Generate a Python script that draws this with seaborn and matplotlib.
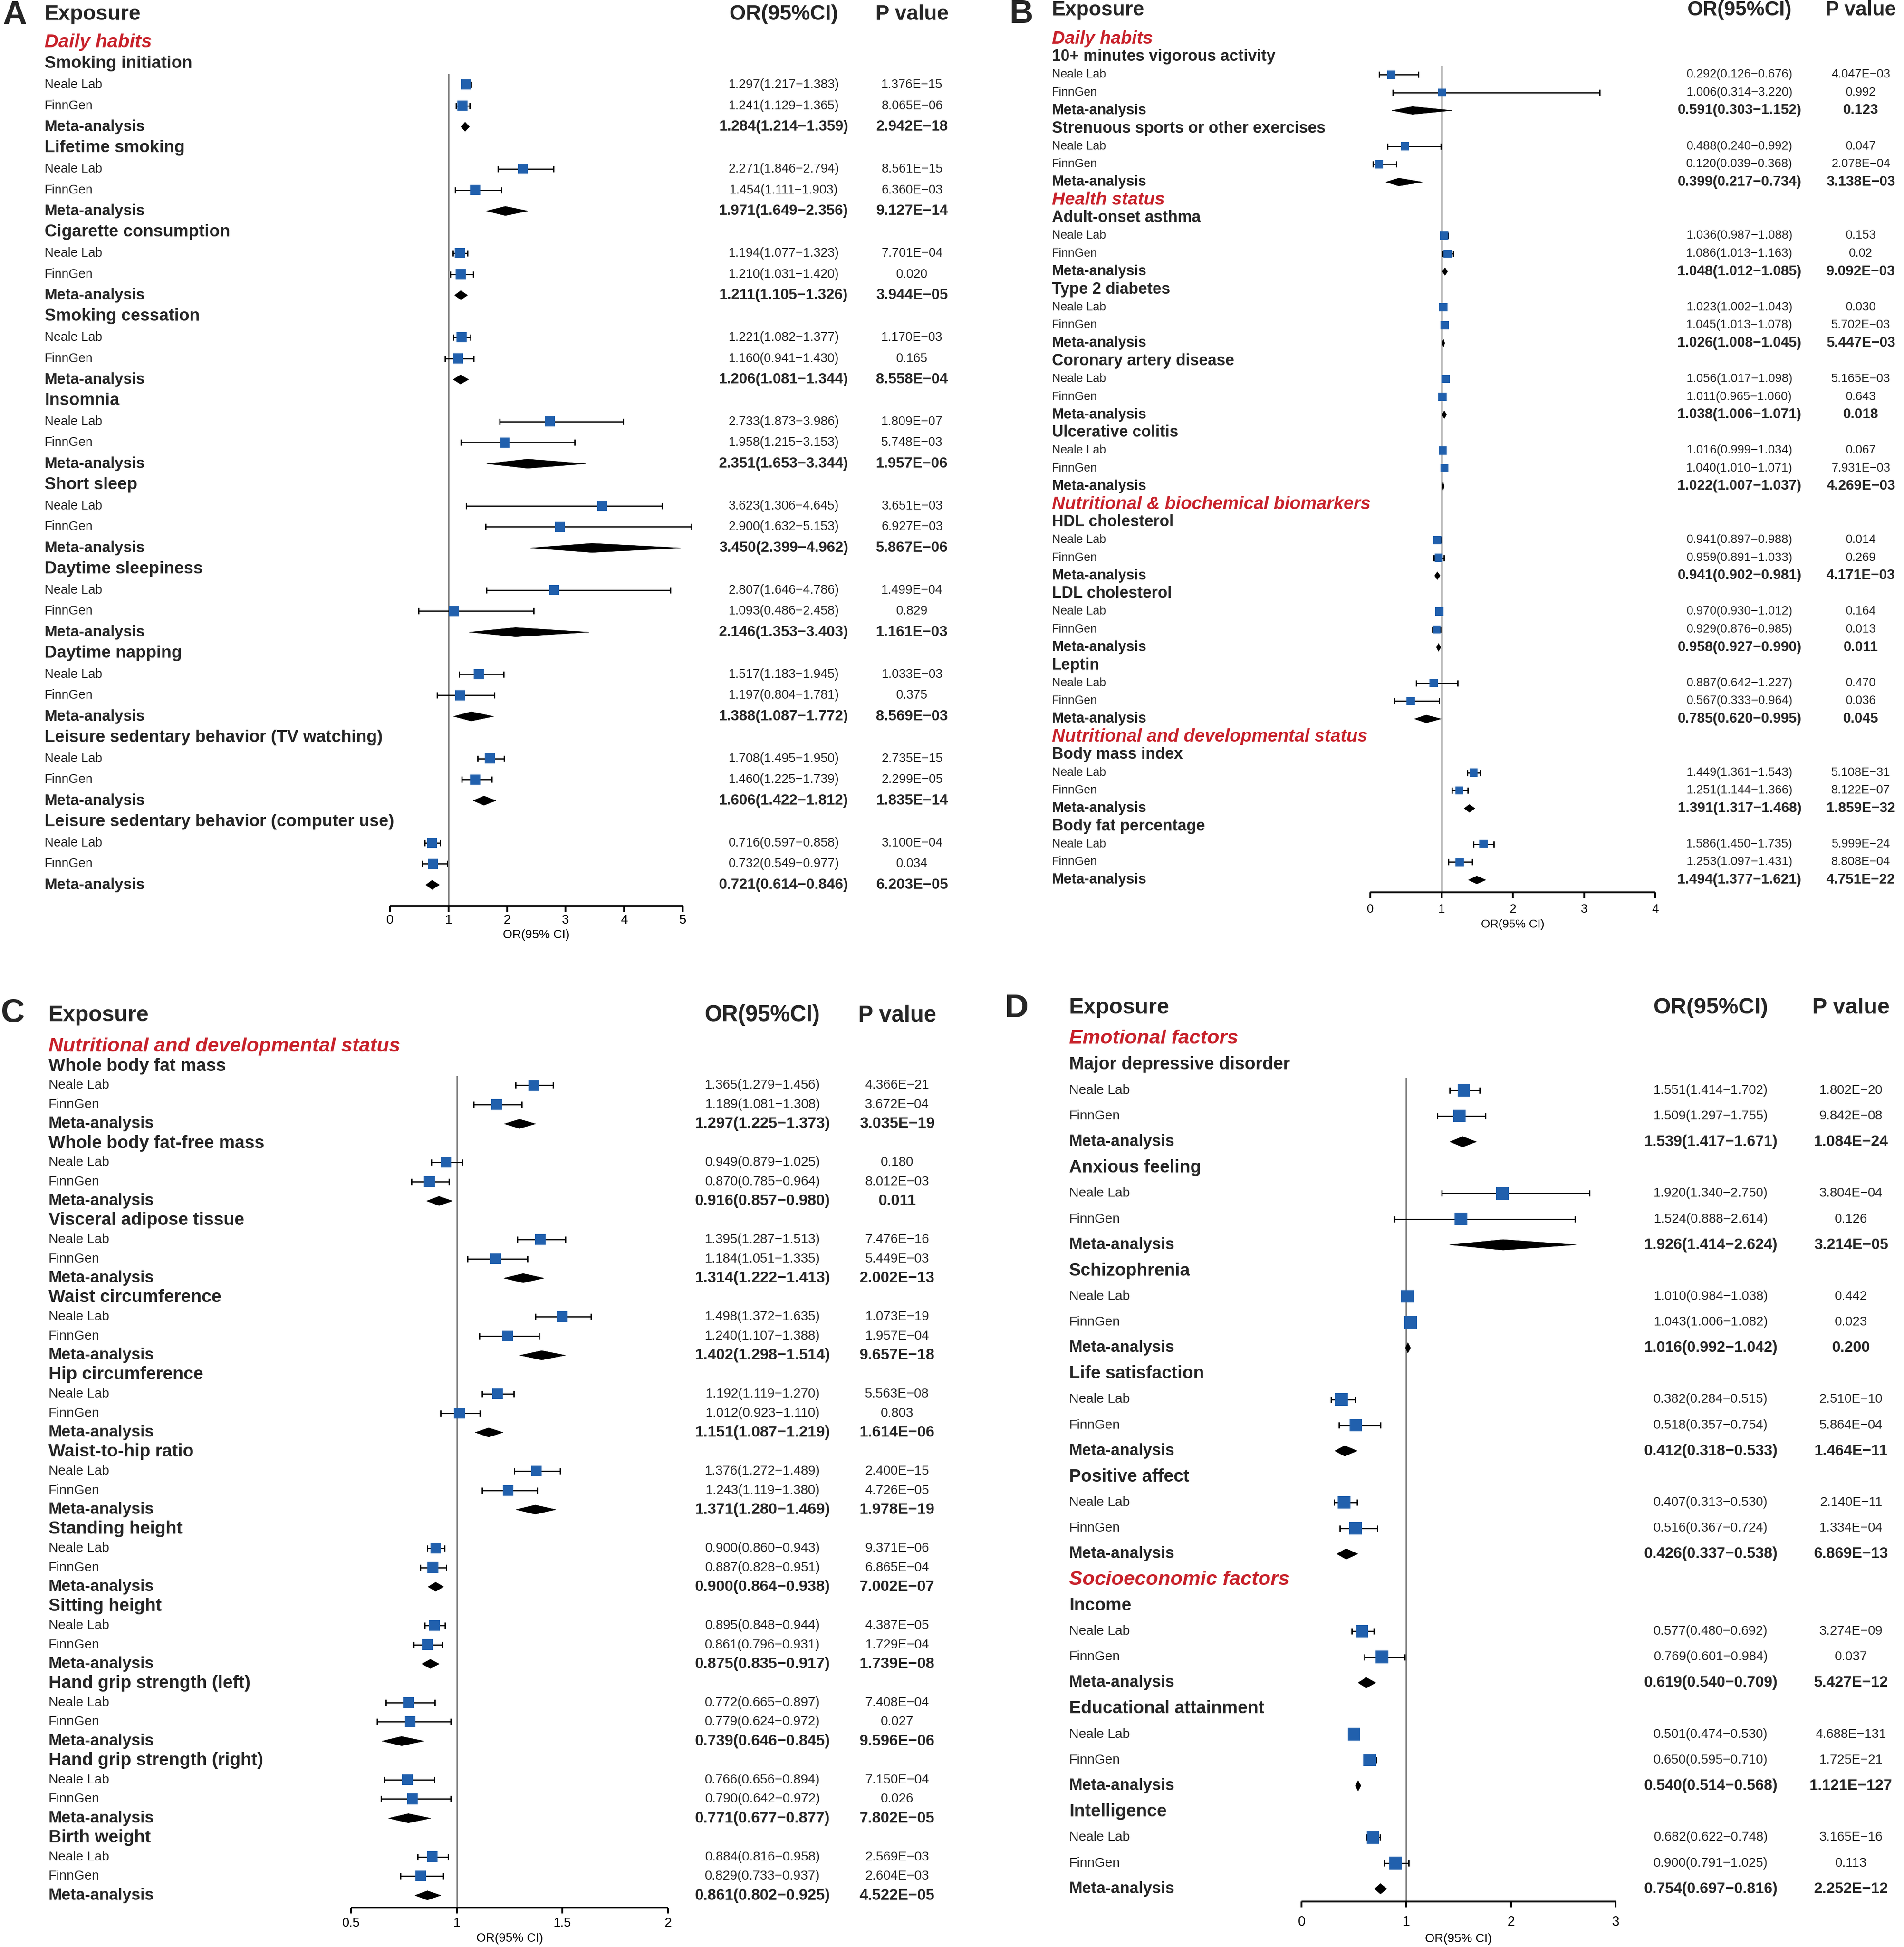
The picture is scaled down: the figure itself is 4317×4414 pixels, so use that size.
import numpy as np
import pandas as pd
import matplotlib
matplotlib.use("Agg")
import matplotlib.pyplot as plt
import matplotlib.transforms as mtransforms
import seaborn as sns

# ======================= DATA =======================
# ---- Panel A ----
A_exposures = ["Smoking initiation", "Lifetime smoking", "Cigarette consumption", "Smoking cessation",
               "Insomnia", "Short sleep", "Daytime sleepiness", "Daytime napping",
               "Leisure sedentary behavior (TV watching)", "Leisure sedentary behavior (computer use)"]
A_groups = ["Daily habits", "", "", "", "", "", "", "", "", ""]
A_nl_or = [1.297, 2.271, 1.194, 1.221, 2.733, 3.623, 2.807, 1.517, 1.708, 0.716]
A_nl_lo = [1.217, 1.846, 1.077, 1.082, 1.873, 1.306, 1.646, 1.183, 1.495, 0.597]
A_nl_hi = [1.383, 2.794, 1.323, 1.377, 3.986, 4.645, 4.786, 1.945, 1.950, 0.858]
A_nl_p = ["1.376E-15", "8.561E-15", "7.701E-04", "1.170E-03", "1.809E-07", "3.651E-03", "1.499E-04",
          "1.033E-03", "2.735E-15", "3.100E-04"]
A_fg_or = [1.241, 1.454, 1.210, 1.160, 1.958, 2.900, 1.093, 1.197, 1.460, 0.732]
A_fg_lo = [1.129, 1.111, 1.031, 0.941, 1.215, 1.632, 0.486, 0.804, 1.225, 0.549]
A_fg_hi = [1.365, 1.903, 1.420, 1.430, 3.153, 5.153, 2.458, 1.781, 1.739, 0.977]
A_fg_p = ["8.065E-06", "6.360E-03", "0.020", "0.165", "5.748E-03", "6.927E-03", "0.829", "0.375",
          "2.299E-05", "0.034"]
A_meta_or = [1.284, 1.971, 1.211, 1.206, 2.351, 3.450, 2.146, 1.388, 1.606, 0.721]
A_meta_lo = [1.214, 1.649, 1.105, 1.081, 1.653, 2.399, 1.353, 1.087, 1.422, 0.614]
A_meta_hi = [1.359, 2.356, 1.326, 1.344, 3.344, 4.962, 3.403, 1.772, 1.812, 0.846]
A_meta_p = ["2.942E-18", "9.127E-14", "3.944E-05", "8.558E-04", "1.957E-06", "5.867E-06", "1.161E-03",
            "8.569E-03", "1.835E-14", "6.203E-05"]

# ---- Panel B ----
B_exposures = ["10+ minutes vigorous activity", "Strenuous sports or other exercises", "Adult-onset asthma",
               "Type 2 diabetes", "Coronary artery disease", "Ulcerative colitis", "HDL cholesterol",
               "LDL cholesterol", "Leptin", "Body mass index", "Body fat percentage"]
B_groups = ["Daily habits", "", "Health status", "", "", "", "Nutritional & biochemical biomarkers", "", "",
            "Nutritional and developmental status", ""]
B_nl_or = [0.292, 0.488, 1.036, 1.023, 1.056, 1.016, 0.941, 0.970, 0.887, 1.449, 1.586]
B_nl_lo = [0.126, 0.240, 0.987, 1.002, 1.017, 0.999, 0.897, 0.930, 0.642, 1.361, 1.450]
B_nl_hi = [0.676, 0.992, 1.088, 1.043, 1.098, 1.034, 0.988, 1.012, 1.227, 1.543, 1.735]
B_nl_p = ["4.047E-03", "0.047", "0.153", "0.030", "5.165E-03", "0.067", "0.014", "0.164", "0.470",
          "5.108E-31", "5.999E-24"]
B_fg_or = [1.006, 0.120, 1.086, 1.045, 1.011, 1.040, 0.959, 0.929, 0.567, 1.251, 1.253]
B_fg_lo = [0.314, 0.039, 1.013, 1.013, 0.965, 1.010, 0.891, 0.876, 0.333, 1.144, 1.097]
B_fg_hi = [3.220, 0.368, 1.163, 1.078, 1.060, 1.071, 1.033, 0.985, 0.964, 1.366, 1.431]
B_fg_p = ["0.992", "2.078E-04", "0.02", "5.702E-03", "0.643", "7.931E-03", "0.269", "0.013", "0.036",
          "8.122E-07", "8.808E-04"]
B_meta_or = [0.591, 0.399, 1.048, 1.026, 1.038, 1.022, 0.941, 0.958, 0.785, 1.391, 1.494]
B_meta_lo = [0.303, 0.217, 1.012, 1.008, 1.006, 1.007, 0.902, 0.927, 0.620, 1.317, 1.377]
B_meta_hi = [1.152, 0.734, 1.085, 1.045, 1.071, 1.037, 0.981, 0.990, 0.995, 1.468, 1.621]
B_meta_p = ["0.123", "3.138E-03", "9.092E-03", "5.447E-03", "0.018", "4.269E-03", "4.171E-03", "0.011",
            "0.045", "1.859E-32", "4.751E-22"]

# ---- Panel C ----
C_exposures = ["Whole body fat mass", "Whole body fat-free mass", "Visceral adipose tissue",
               "Waist circumference", "Hip circumference", "Waist-to-hip ratio", "Standing height",
               "Sitting height", "Hand grip strength (left)", "Hand grip strength (right)", "Birth weight"]
C_groups = ["Nutritional and developmental status", "", "", "", "", "", "", "", "", "", ""]
C_nl_or = [1.365, 0.949, 1.395, 1.498, 1.192, 1.376, 0.900, 0.895, 0.772, 0.766, 0.884]
C_nl_lo = [1.279, 0.879, 1.287, 1.372, 1.119, 1.272, 0.860, 0.848, 0.665, 0.656, 0.816]
C_nl_hi = [1.456, 1.025, 1.513, 1.635, 1.270, 1.489, 0.943, 0.944, 0.897, 0.894, 0.958]
C_nl_p = ["4.366E-21", "0.180", "7.476E-16", "1.073E-19", "5.563E-08", "2.400E-15", "9.371E-06",
          "4.387E-05", "7.408E-04", "7.150E-04", "2.569E-03"]
C_fg_or = [1.189, 0.870, 1.184, 1.240, 1.012, 1.243, 0.887, 0.861, 0.779, 0.790, 0.829]
C_fg_lo = [1.081, 0.785, 1.051, 1.107, 0.923, 1.119, 0.828, 0.796, 0.624, 0.642, 0.733]
C_fg_hi = [1.308, 0.964, 1.335, 1.388, 1.110, 1.380, 0.951, 0.931, 0.972, 0.972, 0.937]
C_fg_p = ["3.672E-04", "8.012E-03", "5.449E-03", "1.957E-04", "0.803", "4.726E-05", "6.865E-04",
          "1.729E-04", "0.027", "0.026", "2.604E-03"]
C_meta_or = [1.297, 0.916, 1.314, 1.402, 1.151, 1.371, 0.900, 0.875, 0.739, 0.771, 0.861]
C_meta_lo = [1.225, 0.857, 1.222, 1.298, 1.087, 1.280, 0.864, 0.835, 0.646, 0.677, 0.802]
C_meta_hi = [1.373, 0.980, 1.413, 1.514, 1.219, 1.469, 0.938, 0.917, 0.845, 0.877, 0.925]
C_meta_p = ["3.035E-19", "0.011", "2.002E-13", "9.657E-18", "1.614E-06", "1.978E-19", "7.002E-07",
            "1.739E-08", "9.596E-06", "7.802E-05", "4.522E-05"]

# ---- Panel D ----
D_exposures = ["Major depressive disorder", "Anxious feeling", "Schizophrenia", "Life satisfaction",
               "Positive affect", "Income", "Educational attainment", "Intelligence"]
D_groups = ["Emotional factors", "", "", "", "", "Socioeconomic factors", "", ""]
D_nl_or = [1.551, 1.920, 1.010, 0.382, 0.407, 0.577, 0.501, 0.682]
D_nl_lo = [1.414, 1.340, 0.984, 0.284, 0.313, 0.480, 0.474, 0.622]
D_nl_hi = [1.702, 2.750, 1.038, 0.515, 0.530, 0.692, 0.530, 0.748]
D_nl_p = ["1.802E-20", "3.804E-04", "0.442", "2.510E-10", "2.140E-11", "3.274E-09", "4.688E-131",
          "3.165E-16"]
D_fg_or = [1.509, 1.524, 1.043, 0.518, 0.516, 0.769, 0.650, 0.900]
D_fg_lo = [1.297, 0.888, 1.006, 0.357, 0.367, 0.601, 0.595, 0.791]
D_fg_hi = [1.755, 2.614, 1.082, 0.754, 0.724, 0.984, 0.710, 1.025]
D_fg_p = ["9.842E-08", "0.126", "0.023", "5.864E-04", "1.334E-04", "0.037", "1.725E-21", "0.113"]
D_meta_or = [1.539, 1.926, 1.016, 0.412, 0.426, 0.619, 0.540, 0.754]
D_meta_lo = [1.417, 1.414, 0.992, 0.318, 0.337, 0.540, 0.514, 0.697]
D_meta_hi = [1.671, 2.624, 1.042, 0.533, 0.538, 0.709, 0.568, 0.816]
D_meta_p = ["1.084E-24", "3.214E-05", "0.200", "1.464E-11", "6.869E-13", "5.427E-12", "1.121E-127",
            "2.252E-12"]

A_ticks = [0, 1, 2, 3, 4, 5]
B_ticks = [0, 1, 2, 3, 4]
C_ticks = [0.5, 1, 1.5, 2]
D_ticks = [0, 1, 2, 3]

# ======================= STYLE =======================
sns.set_theme(style="white")
plt.rcParams['font.family'] = ['Liberation Sans', 'DejaVu Sans']
plt.rcParams['axes.unicode_minus'] = True

W, H = 4317, 4414
fig = plt.figure(figsize=(W / 100, H / 100), dpi=100)
fig.patch.set_facecolor("white")

BLUE = "#2160AD"
RED = "#C8222B"
GREY = "#808080"
MINUS = "\u2212"

SPECS = {
    "A": dict(letter_x=6, letter_y=34, lab_x=101, or_x=1777, p_x=2068, head_y=33,
              row0=48.7, sp=47.74, axis_y=2054, x0=884, x1=1548, xmin=0, xmax=5, ticks=A_ticks,
              f=dict(letter=54, exph=34.5, colh=34.3, group=31.2, title=27.8, sub=20.6, meta=25,
                     num=20.6, numb=24.1, tick=21, xlab=20), box=16.5, dia=0.22, tpad=4, lpad=5),
    "B": dict(letter_x=2289, letter_y=32, lab_x=2385, or_x=3944, p_x=4219, head_y=23,
              row0=47.6, sp=40.57, axis_y=2023, x0=3107, x1=3753, xmin=0, xmax=4, ticks=B_ticks,
              f=dict(letter=54, exph=33.2, colh=33, group=29.3, title=26, sub=19.4, meta=23.6,
                     num=19.8, numb=23.1, tick=20, xlab=19), box=13.5, dia=0.22, tpad=10, lpad=6),
    "C": dict(letter_x=2, letter_y=2297, lab_x=110, or_x=1729, p_x=2034, head_y=2302,
              row0=2329.2, sp=43.73, axis_y=4325, x0=796, x1=1515, xmin=0.5, xmax=2, ticks=C_ticks,
              f=dict(letter=54, exph=36, colh=36.5, group=32.7, title=29, sub=21.8, meta=26.3,
                     num=21.5, numb=25.2, tick=21, xlab=20), box=17.5, dia=0.24, tpad=6, lpad=6),
    "D": dict(letter_x=2278, letter_y=2287, lab_x=2424, or_x=3879, p_x=4197, head_y=2285,
              row0=2296.5, sp=58.4, axis_y=4311, x0=2951, x1=3663, xmin=0, xmax=3, ticks=D_ticks,
              f=dict(letter=54, exph=36, colh=36.3, group=32.7, title=29, sub=21.8, meta=26.3,
                     num=21.3, numb=24.9, tick=22, xlab=20), box=20.5, dia=0.205, tpad=14, lpad=7),
}


def fmt_ci(e, lo, hi):
    return f"{e:.3f}({lo:.3f}{MINUS}{hi:.3f})"


def draw_panel(key, exposures, groups, nl, fg, meta):
    s = SPECS[key]
    f = s["f"]
    row0, sp = s["row0"], s["sp"]
    recs = []
    r = 1
    for i, name in enumerate(exposures):
        if groups[i]:
            recs.append(dict(row=r, kind="group", label=groups[i]))
            r += 1
        recs.append(dict(row=r, kind="title", label=name))
        r += 1
        for kind, lab, src in (("nl", "Neale Lab", nl), ("fg", "FinnGen", fg), ("meta", "Meta-analysis", meta)):
            recs.append(dict(row=r, kind=kind, label=lab, est=src[0][i], lo=src[1][i],
                             hi=src[2][i], p=src[3][i]))
            r += 1
    df = pd.DataFrame(recs)

    top_row = 2.5
    axis_row = (s["axis_y"] - row0) / sp
    top_px = row0 + top_row * sp
    ax = fig.add_axes([s["x0"] / W, 1 - s["axis_y"] / H, (s["x1"] - s["x0"]) / W,
                       (s["axis_y"] - top_px) / H])
    ax.set_facecolor("none")

    studies = df[df["kind"].isin(["nl", "fg"])].copy()
    eb = ax.errorbar(studies["est"], studies["row"],
                     xerr=[studies["est"] - studies["lo"], studies["hi"] - studies["est"]],
                     fmt="none", ecolor="black", elinewidth=1.9, capsize=5, capthick=2.1, zorder=2)
    for art in eb.get_children():
        art.set_clip_on(False)
    sns.scatterplot(data=studies, x="est", y="row", marker="s", s=s["box"] ** 2, color=BLUE,
                    edgecolor="none", linewidth=0, ax=ax, zorder=3, legend=False, clip_on=False)

    metas = df[df["kind"] == "meta"]
    h = s["dia"]
    for _, m in metas.iterrows():
        ax.fill([m["lo"], m["est"], m["hi"], m["est"]],
                [m["row"], m["row"] - h, m["row"], m["row"] + h],
                color="black", lw=0.5, zorder=3, clip_on=False)

    ax.axvline(1, color=GREY, lw=2.4, zorder=1)
    ax.set_xlim(s["xmin"], s["xmax"])
    ax.set_ylim(axis_row, top_row)
    ax.set_xticks(s["ticks"])
    ax.set_xticklabels([f"{t:g}" for t in s["ticks"]])
    ax.set_yticks([])
    ax.set_ylabel("")
    ax.set_xlabel("OR(95% CI)", fontsize=f["xlab"], labelpad=s["lpad"], color="black")
    for side in ("left", "right", "top"):
        ax.spines[side].set_visible(False)
    ax.spines["bottom"].set_linewidth(3)
    ax.spines["bottom"].set_color("black")
    ax.spines["bottom"].set_capstyle("butt")
    ax.tick_params(axis="x", direction="out", length=9, width=3, color="black",
                   labelsize=f["tick"], pad=s["tpad"], bottom=True, labelcolor="black")

    tr = mtransforms.blended_transform_factory(fig.transFigure, ax.transData)
    lx, ox, px = s["lab_x"] / W, s["or_x"] / W, s["p_x"] / W
    hrow = (s["head_y"] - row0) / sp
    ax.text(lx, hrow, "Exposure", transform=tr, ha="left", va="center", fontsize=f["exph"], weight="bold")
    ax.text(ox, hrow, "OR(95%CI)", transform=tr, ha="center", va="center", fontsize=f["colh"], weight="bold")
    ax.text(px, hrow, "P value", transform=tr, ha="center", va="center", fontsize=f["colh"], weight="bold")
    fig.text(s["letter_x"] / W, 1 - s["letter_y"] / H, key, ha="left", va="center",
             fontsize=f["letter"], weight="bold")

    for _, rr in df.iterrows():
        k = rr["kind"]
        if k == "group":
            ax.text(lx, rr["row"], rr["label"], transform=tr, ha="left", va="center",
                    fontsize=f["group"], weight="bold", style="italic", color=RED)
        elif k == "title":
            ax.text(lx, rr["row"], rr["label"], transform=tr, ha="left", va="center",
                    fontsize=f["title"], weight="bold")
        else:
            bold = k == "meta"
            ax.text(lx, rr["row"], rr["label"], transform=tr, ha="left", va="center",
                    fontsize=f["meta"] if bold else f["sub"], weight="bold" if bold else "normal")
            ax.text(ox, rr["row"], fmt_ci(rr["est"], rr["lo"], rr["hi"]), transform=tr, ha="center",
                    va="center", fontsize=f["numb"] if bold else f["num"],
                    weight="bold" if bold else "normal")
            ax.text(px, rr["row"], rr["p"].replace("-", MINUS), transform=tr, ha="center",
                    va="center", fontsize=f["numb"] if bold else f["num"],
                    weight="bold" if bold else "normal")
    return ax


draw_panel("A", A_exposures, A_groups,
           (A_nl_or, A_nl_lo, A_nl_hi, A_nl_p), (A_fg_or, A_fg_lo, A_fg_hi, A_fg_p),
           (A_meta_or, A_meta_lo, A_meta_hi, A_meta_p))
draw_panel("B", B_exposures, B_groups,
           (B_nl_or, B_nl_lo, B_nl_hi, B_nl_p), (B_fg_or, B_fg_lo, B_fg_hi, B_fg_p),
           (B_meta_or, B_meta_lo, B_meta_hi, B_meta_p))
draw_panel("C", C_exposures, C_groups,
           (C_nl_or, C_nl_lo, C_nl_hi, C_nl_p), (C_fg_or, C_fg_lo, C_fg_hi, C_fg_p),
           (C_meta_or, C_meta_lo, C_meta_hi, C_meta_p))
draw_panel("D", D_exposures, D_groups,
           (D_nl_or, D_nl_lo, D_nl_hi, D_nl_p), (D_fg_or, D_fg_lo, D_fg_hi, D_fg_p),
           (D_meta_or, D_meta_lo, D_meta_hi, D_meta_p))

fig.savefig("out.png", dpi=100, facecolor="white")
